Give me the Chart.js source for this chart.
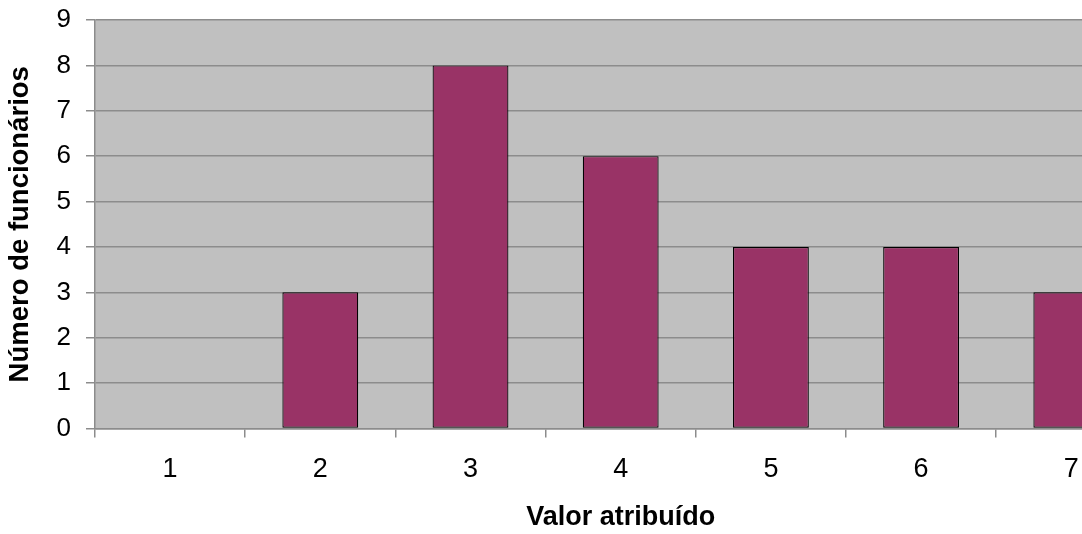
<!DOCTYPE html>
<html>
<head>
<meta charset="utf-8">
<script src="https://cdn.jsdelivr.net/npm/chart.js@4/dist/chart.umd.min.js"></script>
<style>
  html, body { margin: 0; padding: 0; background: #ffffff; overflow: hidden; }
  #wrap { width: 1082px; height: 534px; overflow: hidden; }
  canvas { display: block; }
</style>
</head>
<body>
<div id="wrap"><canvas id="c" width="1160" height="534"></canvas></div>
<script>
// Distribution of employees by assigned value
const categories = ['1', '2', '3', '4', '5', '6', '7'];
const employees = [0, 3, 8, 6, 4, 4, 3];
const yTicks = [0, 1, 2, 3, 4, 5, 6, 7, 8, 9];
const xTitle = 'Valor atribuído';
const yTitle = 'Número de funcionários';

const FONT = "'Liberation Sans', Arial, sans-serif";
const GRID = '#8c8c8c';

// Grey plot background behind the bars
const plotBackground = {
  id: 'plotBackground',
  beforeDraw(chart) {
    const { ctx, chartArea: a } = chart;
    ctx.save();
    ctx.fillStyle = '#c0c0c0';
    ctx.fillRect(a.left, a.top, a.right - a.left, a.bottom - a.top);
    ctx.restore();
  }
};

new Chart(document.getElementById('c'), {
  type: 'bar',
  data: {
    labels: categories,
    datasets: [{
      data: employees,
      backgroundColor: '#993366',
      borderColor: '#000000',
      borderWidth: (ctx) => (ctx.raw ? 1.2 : 0),
      borderSkipped: false,
      categoryPercentage: 1,
      barPercentage: 0.505
    }]
  },
  options: {
    responsive: false,
    devicePixelRatio: 1,
    animation: false,
    events: [],
    layout: { padding: { top: 20, right: 13.6, left: 0, bottom: 0 } },
    plugins: { legend: { display: false }, tooltip: { enabled: false } },
    scales: {
      x: {
        grid: {
          offset: true,
          drawOnChartArea: false,
          drawTicks: true,
          tickLength: 9,
          tickColor: GRID,
          lineWidth: 1.5
        },
        border: { color: GRID, width: 1.5 },
        ticks: {
          color: '#000000',
          padding: 16,
          font: { family: FONT, size: 27 }
        },
        title: {
          display: true,
          text: xTitle,
          color: '#000000',
          padding: { top: 0, bottom: 0 },
          font: { family: FONT, size: 27, weight: 'bold' }
        },
        afterFit(scale) {
          scale.height = 105.5;
          scale.paddingLeft = 0;
          scale.paddingRight = 0;
        }
      },
      y: {
        min: 0,
        max: 9,
        afterBuildTicks(scale) { scale.ticks = yTicks.map(v => ({ value: v })); },
        grid: {
          color: GRID,
          lineWidth: 1.5,
          drawTicks: true,
          tickLength: 9,
          tickColor: GRID
        },
        border: { color: GRID, width: 1.5 },
        ticks: {
          color: '#000000',
          padding: 15,
          font: { family: FONT, size: 26 }
        },
        title: {
          display: true,
          text: yTitle,
          color: '#000000',
          padding: { top: 4, bottom: 0 },
          font: { family: FONT, size: 27.5, weight: 'bold' }
        },
        afterFit(scale) {
          scale.width = 95;
          scale.paddingTop = 0;
          scale.paddingBottom = 0;
        }
      }
    }
  },
  plugins: [plotBackground]
});
</script>
</body>
</html>
